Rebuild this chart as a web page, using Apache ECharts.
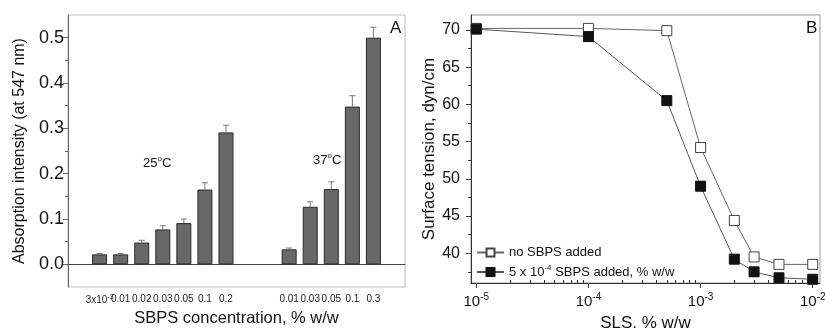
<!DOCTYPE html>
<html>
<head>
<meta charset="utf-8">
<script src="https://cdn.jsdelivr.net/npm/echarts@6/dist/echarts.min.js"></script>
<style>
  html, body { margin: 0; padding: 0; background: #fff; }
  #chart { width: 825px; height: 328px; }
</style>
</head>
<body>
<div id="chart"></div>
<script>
// panel A - absorption at 547 nm
const labels25 = ["3x10^-3", "0.01", "0.02", "0.03", "0.05", "0.1", "0.2"];
const values25 = [0.022, 0.022, 0.048, 0.077, 0.091, 0.165, 0.291];
const errTop25 = [0.024, 0.024, 0.053, 0.085, 0.100, 0.180, 0.307];
const labels37 = ["0.01", "0.03", "0.05", "0.1", "0.3"];
const values37 = [0.033, 0.127, 0.166, 0.348, 0.500];
const errTop37 = [0.036, 0.138, 0.182, 0.372, 0.523];
const absTicks = [0, 0.1, 0.2, 0.3, 0.4, 0.5];
const absMinorTicks = [0.05, 0.15, 0.25, 0.35, 0.45];

// panel B - surface tension vs SLS
const slsConc = [1e-5, 1e-4, 5e-4, 1e-3, 2e-3, 3e-3, 5e-3, 1e-2];
const tensionNoSbps = [70.2, 70.2, 69.9, 54.2, 44.4, 39.5, 38.5, 38.5];
const tensionSbps = [70.1, 69.1, 60.5, 49.0, 39.2, 37.5, 36.7, 36.5];
const tensionTicks = [40, 45, 50, 55, 60, 65, 70];
const tensionMinor = [37.5, 42.5, 47.5, 52.5, 57.5, 62.5, 67.5];
const slsDecades = [1e-5, 1e-4, 1e-3, 1e-2];
const slsMinor = slsDecades.slice(0, 3).flatMap(d => [2, 3, 4, 5, 6, 7, 8, 9].map(m => m * d));
const seriesNames = ["no SBPS added", "5 x 10^-4 SBPS added, % w/w"];

// category slots: gap, 25C group, two gaps, 37C group, gap
const categories = [""].concat(labels25, ["", ""], labels37, [""]);
const barValues = [null].concat(values25, [null, null], values37, [null]);
const errTops = [null].concat(errTop25, [null, null], errTop37, [null]);
const errData = [];
barValues.forEach((v, i) => { if (v != null) errData.push([i, v, errTops[i]]); });

const sup = (s) => s.replace(/\^(-?\d+)/g, "{sup|$1}");
const FONT = "Liberation Sans, Arial, sans-serif";
// raise a small token by padding its box at the bottom
const supStyle = (fs, lift) => ({ fontSize: fs, padding: [0, 0, lift * 2, 0], fontFamily: FONT, color: "#111" });

const rectA = { left: 68, top: 15, width: 337, height: 272, outerBoundsMode: "none" };
const rectB = { left: 471, top: 15, width: 349, height: 268, outerBoundsMode: "none" };
const X_LOG = [8.97e-6, 0.01161];
const hiddenAxis = { show: false };

const chart = echarts.init(document.getElementById("chart"));
chart.setOption({
  animation: false,
  textStyle: { fontFamily: FONT, color: "#111" },
  grid: [
    Object.assign({ show: true, borderColor: "#bbb", borderWidth: 1 }, rectA),
    Object.assign({ show: true, borderColor: "#999", borderWidth: 1 }, rectB),
    Object.assign({ show: false }, rectA),   // minor ticks overlay for A
    Object.assign({ show: false }, rectB)    // minor ticks overlay for B
  ],
  xAxis: [
    {
      gridIndex: 0, type: "category", data: categories,
      axisLine: { lineStyle: { color: "#444" } },
      axisTick: { length: 4, lineStyle: { color: "#444" } },
      axisLabel: {
        interval: 0, fontSize: 10, margin: 7, color: "#222",
        formatter: (v) => sup(v),
        rich: { sup: supStyle(7, 3) }
      },
      name: "SBPS concentration, % w/w", nameLocation: "middle", nameGap: 21,
      nameTextStyle: { fontSize: 16.5, color: "#111" }
    },
    {
      gridIndex: 1, type: "log", logBase: 10, min: X_LOG[0], max: X_LOG[1],
      axisLine: { lineStyle: { color: "#333" } },
      axisTick: { length: 5, customValues: slsDecades, lineStyle: { color: "#333" } },
      axisLabel: {
        customValues: slsDecades, fontSize: 15, margin: 9, color: "#111",
        formatter: (v) => "10{sup|" + Math.round(Math.log10(v)) + "}",
        rich: { sup: supStyle(10, 5) }
      },
      splitLine: { show: false },
      name: "SLS, % w/w", nameLocation: "middle", nameGap: 31,
      nameTextStyle: { fontSize: 17, color: "#111" }
    },
    Object.assign({ gridIndex: 2, type: "value" }, hiddenAxis),
    {
      gridIndex: 3, type: "log", logBase: 10, min: X_LOG[0], max: X_LOG[1],
      axisLine: { show: false },
      axisTick: { inside: true, length: 3, customValues: slsMinor, lineStyle: { color: "#333" } },
      axisLabel: { show: false },
      splitLine: { show: false }
    }
  ],
  yAxis: [
    {
      gridIndex: 0, type: "value", min: -0.05, max: 0.55,
      axisLine: { show: true, lineStyle: { color: "#666" } },
      axisTick: { show: true, length: 5, customValues: absTicks, lineStyle: { color: "#666" } },
      axisLabel: {
        customValues: absTicks, fontSize: 18, margin: 4, color: "#111",
        formatter: (v) => v.toFixed(1)
      },
      splitLine: { show: false },
      name: "Absorption intensity (at 547 nm)", nameLocation: "middle", nameGap: 40,
      nameTextStyle: { fontSize: 16, color: "#111" }
    },
    {
      gridIndex: 1, type: "value", min: 36, max: 72,
      axisLine: { show: true, lineStyle: { color: "#333" } },
      axisTick: { show: true, length: 5, customValues: tensionTicks, lineStyle: { color: "#333" } },
      axisLabel: { customValues: tensionTicks, fontSize: 16, margin: 11, color: "#111" },
      splitLine: { show: false },
      name: "Surface tension, dyn/cm", nameLocation: "middle", nameGap: 33,
      nameTextStyle: { fontSize: 17, color: "#111" }
    },
    {
      gridIndex: 2, type: "value", min: -0.05, max: 0.55,
      axisLine: { show: false },
      axisTick: { show: true, length: 3, customValues: absMinorTicks, lineStyle: { color: "#666" } },
      axisLabel: { show: false },
      splitLine: { show: false }
    },
    {
      gridIndex: 3, type: "value", min: 36, max: 72,
      axisLine: { show: false },
      axisTick: { show: true, length: 3, customValues: tensionMinor, lineStyle: { color: "#333" } },
      axisLabel: { show: false },
      splitLine: { show: false }
    }
  ],
  legend: {
    orient: "vertical", left: 476, top: 246, padding: 0, itemWidth: 27, itemHeight: 10, itemGap: 5,
    data: seriesNames,
    formatter: (n) => sup(n),
    textStyle: { fontSize: 13, color: "#111", rich: { sup: supStyle(8, 4) } }
  },
  series: [
    {
      type: "bar", xAxisIndex: 0, yAxisIndex: 0, data: barValues, barWidth: 15,
      itemStyle: { color: "#686868", borderColor: "#2a2a2a", borderWidth: 1 }
    },
    {
      type: "custom", xAxisIndex: 0, yAxisIndex: 0, data: errData, z: 3,
      renderItem: (params, api) => {
        const base = api.coord([api.value(0), api.value(1)]);
        const top = api.coord([api.value(0), api.value(2)]);
        const style = { stroke: "#777", lineWidth: 1 };
        return {
          type: "group",
          children: [
            { type: "line", shape: { x1: base[0], y1: base[1], x2: top[0], y2: top[1] }, style },
            { type: "line", shape: { x1: top[0] - 3, y1: top[1], x2: top[0] + 3, y2: top[1] }, style }
          ]
        };
      }
    },
    {
      name: seriesNames[0], type: "line", xAxisIndex: 1, yAxisIndex: 1,
      data: slsConc.map((x, i) => [x, tensionNoSbps[i]]),
      symbol: "rect", symbolSize: 10,
      itemStyle: { color: "#fff", borderColor: "#444", borderWidth: 1 },
      lineStyle: { color: "#666", width: 1 }
    },
    {
      name: seriesNames[1], type: "line", xAxisIndex: 1, yAxisIndex: 1,
      data: slsConc.map((x, i) => [x, tensionSbps[i]]),
      symbol: "rect", symbolSize: 10,
      itemStyle: { color: "#111", borderColor: "#111", borderWidth: 1 },
      lineStyle: { color: "#555", width: 1 }
    }
  ],
  graphic: [
    { type: "text", left: 390, top: 20, style: { text: "A", fontSize: 17, fontFamily: FONT, fill: "#111" } },
    { type: "text", left: 806, top: 20, style: { text: "B", fontSize: 17, fontFamily: FONT, fill: "#111" } },
    { type: "text", left: 143, top: 155, style: { text: "25{sup|o}C", fontSize: 13, fontFamily: FONT, fill: "#111", rich: { sup: supStyle(8, 4) } } },
    { type: "text", left: 313, top: 152, style: { text: "37{sup|o}C", fontSize: 13, fontFamily: FONT, fill: "#111", rich: { sup: supStyle(8, 4) } } }
  ]
});
</script>
</body>
</html>
